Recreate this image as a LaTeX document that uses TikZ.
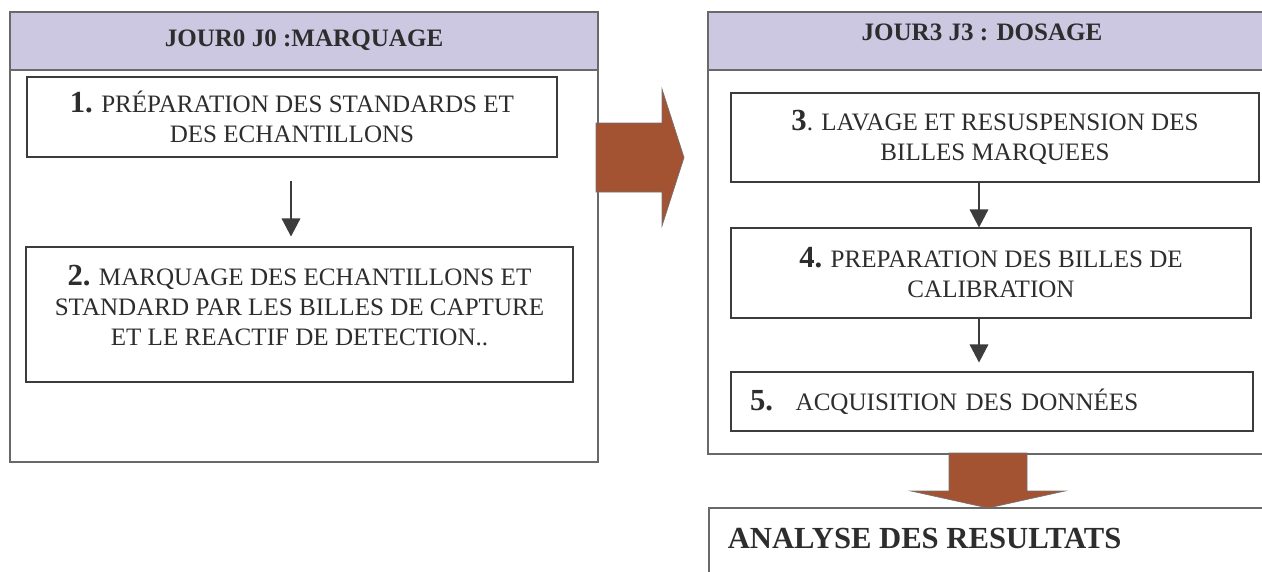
\documentclass[tikz,border=0pt]{standalone}
\usepackage{fontspec}
\setmainfont{Liberation Serif}
\usetikzlibrary{arrows.meta}

\definecolor{lavender}{RGB}{204,200,226}
\definecolor{rust}{RGB}{163,82,50}
\definecolor{frame}{RGB}{105,105,105}
\definecolor{edge}{RGB}{60,60,60}
\definecolor{txt}{RGB}{45,45,45}

% step numbers are set a bit larger than the step text
\newcommand{\stepnum}[1]{{\fontsize{23pt}{22.5pt}\selectfont\bfseries #1}}

\begin{document}
\begin{tikzpicture}[
    x=0.75pt, y=-0.75pt,
    every node/.style={text=txt, font=\fontsize{18.8pt}{22.5pt}\selectfont},
    panel/.style={draw=frame, line width=0.8pt},
    title/.style={font=\bfseries\fontsize{18.8pt}{22.5pt}\selectfont, text height=12.4pt, text depth=0pt},
    stepbox/.style={draw=edge, line width=0.8pt, align=center, inner sep=0pt},
    flow/.style={-{Triangle[length=13.5pt, width=14pt]}, draw=edge, line width=0.8pt},
    bigarrow/.style={fill=rust, draw=black!55, line width=0.5pt}
    ]
    \useasboundingbox (0,0) rectangle (1262,571);
    \clip (0,0) rectangle (1262,571);
    % Panels with their headers
    \draw[panel] (10,12) rectangle (598,462);
    \draw[panel, fill=lavender] (10,12) rectangle (598,70);
    \draw[panel] (708,12) rectangle (1280,454);
    \draw[panel, fill=lavender] (708,12) rectangle (1280,70);
    \node[title] (hL) at (304,38) {JOUR0 J0 :MARQUAGE};
    \node[title] (hR) at (982,32) {JOUR3 J3 : DOSAGE};
    % Day 0 steps
    \node[stepbox, minimum width=397.5pt, minimum height=60pt] (b1) at (292,117)
        {\stepnum{1.} PRÉPARATION DES STANDARDS ET\\ DES ECHANTILLONS};
    \node[stepbox, minimum width=410.25pt, minimum height=101.25pt] (b2) at (299.5,314.5) {};
    \node[align=center] (t2) at (299.5,306)
        {\stepnum{2.} MARQUAGE DES ECHANTILLONS ET\\ STANDARD PAR LES BILLES DE CAPTURE\\ ET LE REACTIF DE DETECTION..};
    % Day 3 steps
    \node[stepbox, minimum width=396pt, minimum height=66.75pt] (b3) at (995,137.5)
        {\stepnum{3}. LAVAGE ET RESUSPENSION DES\\ BILLES MARQUEES};
    \node[stepbox, minimum width=390pt, minimum height=67.5pt] (b4) at (991,273)
        {\stepnum{4.} PREPARATION DES BILLES DE\\ CALIBRATION};
    \node[stepbox, align=left, text width=363pt, inner xsep=14.25pt, minimum height=44.25pt] (b5) at (992,401.5)
        {\stepnum{5.}\hspace{17pt}ACQUISITION DES DONNÉES};
    % Results
    \draw[panel] (709,508) rectangle (1280,600);
    \node[title, font=\bfseries\fontsize{23pt}{26pt}\selectfont, text height=15.2pt, anchor=west, inner xsep=0pt]
        (res) at (727.5,538) {ANALYSE DES RESULTATS};
    % Arrows between steps
    \coordinate (axL) at (291,0);
    \coordinate (axR) at (979,0);
    \draw[flow, shorten <=17.25pt, shorten >=7.5pt] (b1.south -| axL) -- (b2.north -| axL);
    \draw[flow] (b3.south -| axR) -- (b4.north -| axR);
    \draw[flow, shorten >=6.75pt] (b4.south -| axR) -- (b5.north -| axR);
    % Block arrows from day to day
    \draw[bigarrow] (596,123) -- (662,123) -- (662,89) -- (684,157.5) -- (662,226) -- (662,192) -- (596,192) -- cycle;
    \draw[bigarrow] (949,453) -- (1027,453) -- (1027,491) -- (1065,491) -- (988,508) -- (911,491) -- (949,491) -- cycle;
\end{tikzpicture}
\end{document}
